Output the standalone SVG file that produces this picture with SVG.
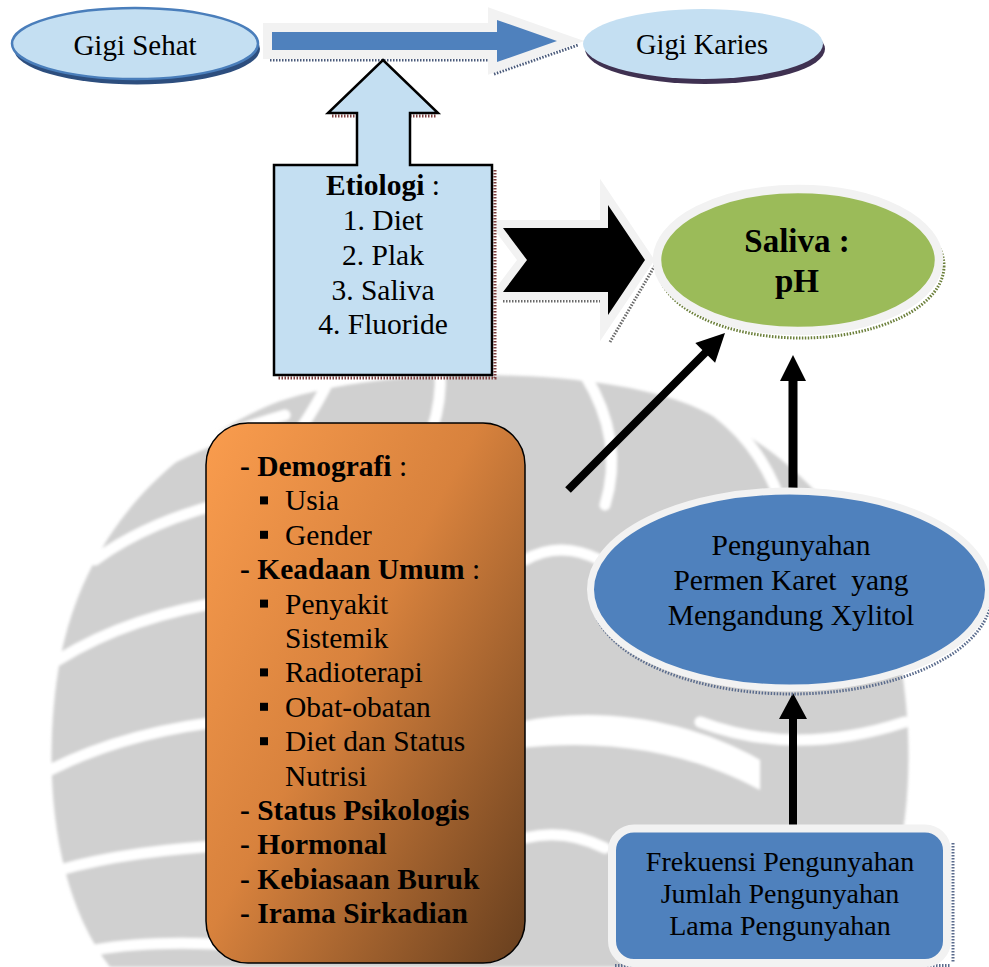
<svg xmlns="http://www.w3.org/2000/svg" width="989" height="967" viewBox="0 0 989 967">
<defs>
  <linearGradient id="orangeGrad" x1="0" y1="0.05" x2="1" y2="0.95">
    <stop offset="0" stop-color="#f89b4d"/>
    <stop offset="0.45" stop-color="#d8823d"/>
    <stop offset="1" stop-color="#6b411f"/>
  </linearGradient>
  <filter id="soft" x="-5%" y="-5%" width="110%" height="110%">
    <feGaussianBlur stdDeviation="1.5"/>
  </filter>
  <style>
    text { font-family: "Liberation Serif", "Times New Roman", serif; fill: #000; font-size: 29.5px; }
    .mid { text-anchor: middle; }
    .b { font-weight: bold; }
    .n { font-weight: normal; }
    .dots { fill: none; stroke-width: 3; stroke-dasharray: 1.5 1.5; }
    .gap { fill: none; stroke: #ffffff; stroke-width: 11; stroke-linecap: round; }
    .ring { stroke: #f2f2f2; }
    .bul { fill: #000; }
  </style>
</defs>

<rect x="0" y="0" width="989" height="967" fill="#ffffff"/>

<!-- background watermark -->
<g id="watermark" filter="url(#soft)">
  <path d="M110,967 C50,890 42,760 60,660 C82,545 155,455 270,405 C370,365 590,365 690,405 C805,455 878,545 900,660 C918,760 910,890 850,967 Z" fill="#d0d0d0"/>
  <path class="gap" d="M150,470 Q200,440 285,415"/>
  <path class="gap" d="M95,560 Q150,520 235,500"/>
  <path class="gap" d="M58,660 Q130,615 235,600"/>
  <path class="gap" d="M50,770 Q130,730 235,720"/>
  <path class="gap" d="M60,870 Q130,850 235,845"/>
  <path class="gap" d="M95,950 Q150,940 235,945"/>
  <path class="gap" d="M330,378 Q320,400 300,430"/>
  <path class="gap" d="M440,370 Q442,400 432,430"/>
  <path class="gap" d="M585,375 Q625,440 605,505"/>
  <path class="gap" d="M690,395 Q755,430 780,500"/>
  <path class="gap" d="M525,560 Q560,540 600,560"/>
  <path class="gap" d="M700,722 Q795,758 905,722"/>
  <path d="M520,722 C600,705 690,720 760,760 L760,790 C690,752 610,738 520,748 Z" fill="#ffffff"/>
  <path class="gap" d="M525,838 Q565,828 605,848"/>
</g>

<!-- connectors -->
<g id="connectors">
  <!-- blue block arrow Gigi Sehat -> Gigi Karies -->
  <path d="M270,60 H490 M494,74 L578,45" class="dots" stroke="#4a5a7a"/>
  <path d="M272,32 H497 V20 L557,41 L497,62 V50 H272 Z" fill="#4f81bd" stroke="#f2f2f2" stroke-width="18" stroke-linejoin="miter" paint-order="stroke"/>
  <!-- black chevron arrow Etiologi -> Saliva -->
  <path d="M503,301 H606 M610,342 L657,262" class="dots" stroke="#6a6a6a"/>
  <path d="M503,228 H608 V205 L645,260 L608,315 V292 H503 L527,260 Z" fill="#000000" stroke="#f2f2f2" stroke-width="16" stroke-linejoin="miter" paint-order="stroke"/>
  <!-- diagonal arrow -->
  <line x1="568" y1="490" x2="707" y2="351" stroke="#000" stroke-width="8"/>
  <polygon points="725,333 715.1,362.7 695.3,342.9" fill="#000"/>
  <!-- vertical arrow Pengunyahan -> Saliva -->
  <line x1="793" y1="489" x2="793" y2="378" stroke="#000" stroke-width="9"/>
  <polygon points="793,355 806,381 780,381" fill="#000"/>
  <!-- vertical arrow Frekuensi -> Pengunyahan -->
  <line x1="793" y1="829" x2="793" y2="716" stroke="#000" stroke-width="8"/>
  <polygon points="793,693 807,719 779,719" fill="#000"/>
</g>

<!-- Gigi Sehat -->
<g id="gigi-sehat">
  <ellipse cx="137" cy="49" rx="123" ry="35.5" fill="#2d4e7e"/>
  <ellipse cx="135" cy="43.5" rx="123" ry="35.5" fill="#c4dff2" stroke="#4a7ebb" stroke-width="2.5"/>
  <text x="135" y="55" class="mid" style="font-size:29px">Gigi Sehat</text>
</g>

<!-- Gigi Karies -->
<g id="gigi-karies">
  <ellipse cx="705" cy="49" rx="120" ry="35" fill="#3f3151"/>
  <ellipse cx="703" cy="44" rx="120" ry="35" fill="#c4dff2"/>
  <text x="702" y="54" class="mid" style="font-size:28.5px">Gigi Karies</text>
</g>

<!-- Etiologi (up-arrow callout) -->
<g id="etiologi">
  <path d="M495,170 V378 H278" class="dots" stroke="#7f3f3f"/>
  <path d="M332,116 H357 M410,116 H437" class="dots" stroke="#7f3f3f"/>
  <path d="M274,165 H357 V113 H328 L383,60 L438,113 H410 V165 H492 V375 H274 Z" fill="#c4dff2" stroke="#000" stroke-width="2.5" stroke-linejoin="miter"/>
  <text x="383" y="195" class="mid"><tspan class="b">Etiologi</tspan> :</text>
  <text x="383" y="230" class="mid">1. Diet</text>
  <text x="383" y="265" class="mid">2. Plak</text>
  <text x="383" y="300" class="mid">3. Saliva</text>
  <text x="383" y="334" class="mid">4. Fluoride</text>
</g>

<!-- Saliva : pH -->
<g id="saliva">
  <ellipse cx="801" cy="266" rx="143" ry="72" class="dots" stroke="#6b7f3a"/>
  <ellipse cx="798" cy="260" rx="141" ry="71" fill="#9bbb59" class="ring" stroke-width="8.5"/>
  <text x="797" y="252" class="mid b" style="font-size:33px">Saliva :</text>
  <text x="797" y="292" class="mid b" style="font-size:33px">pH</text>
</g>

<!-- Faktor (orange box) -->
<g id="faktor">
  <rect x="206" y="423" width="319" height="540" rx="42" ry="42" fill="url(#orangeGrad)" stroke="#000" stroke-width="1.5"/>
  <text x="240" y="476"><tspan class="b">- Demografi</tspan> :</text>
  <rect class="bul" x="260" y="496.4" width="8" height="8"/>
  <text x="285" y="510.4">Usia</text>
  <rect class="bul" x="260" y="530.8" width="8" height="8"/>
  <text x="285" y="544.8">Gender</text>
  <text x="240" y="579.2"><tspan class="b">- Keadaan Umum</tspan> :</text>
  <rect class="bul" x="260" y="599.6" width="8" height="8"/>
  <text x="285" y="613.6">Penyakit</text>
  <text x="285" y="648">Sistemik</text>
  <rect class="bul" x="260" y="668.4" width="8" height="8"/>
  <text x="285" y="682.4">Radioterapi</text>
  <rect class="bul" x="260" y="702.8" width="8" height="8"/>
  <text x="285" y="716.8">Obat-obatan</text>
  <rect class="bul" x="260" y="737.2" width="8" height="8"/>
  <text x="285" y="751.2">Diet dan Status</text>
  <text x="285" y="785.6">Nutrisi</text>
  <text x="240" y="820" class="b">- Status Psikologis</text>
  <text x="240" y="854.4" class="b">- Hormonal</text>
  <text x="240" y="888.8" class="b">- Kebiasaan Buruk</text>
  <text x="240" y="923.2" class="b">- Irama Sirkadian</text>
</g>

<!-- Pengunyahan ellipse -->
<g id="pengunyahan">
  <ellipse cx="791.5" cy="595" rx="200" ry="99" class="dots" stroke="#5a6b8c"/>
  <ellipse cx="789.5" cy="589.5" rx="199" ry="98.5" fill="#4f81bd" class="ring" stroke-width="7"/>
  <text x="791" y="555" class="mid">Pengunyahan</text>
  <text x="791" y="590" class="mid" xml:space="preserve">Permen Karet  yang</text>
  <text x="791" y="625" class="mid">Mengandung Xylitol</text>
</g>

<!-- Frekuensi box -->
<g id="frekuensi">
  <path d="M953,843 V962 M615,965.5 H950" class="dots" stroke="#5a6b8c"/>
  <rect x="612" y="828.5" width="335" height="134.5" rx="22" ry="22" fill="#4f81bd" class="ring" stroke-width="8"/>
  <text x="780" y="871" class="mid" style="font-size:28px">Frekuensi Pengunyahan</text>
  <text x="780" y="903" class="mid" style="font-size:28px">Jumlah Pengunyahan</text>
  <text x="780" y="935" class="mid" style="font-size:28px">Lama Pengunyahan</text>
</g>
</svg>
